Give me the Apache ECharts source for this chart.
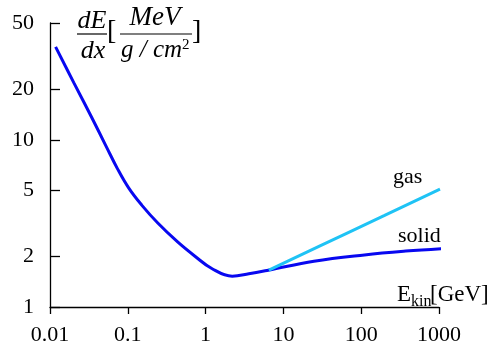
<!DOCTYPE html>
<html>
<head>
<meta charset="utf-8">
<script src="https://cdn.jsdelivr.net/npm/echarts@6/dist/echarts.min.js"></script>
<style>
  html, body { margin: 0; padding: 0; background: #fff; }
  #chart { width: 501px; height: 347px; }
</style>
</head>
<body>
<div id="chart"></div>
<script>
// kinetic energy [GeV] and energy loss [MeV/(g/cm2)]
let solidE = [0.0118, 0.0202, 0.0344, 0.0525, 0.0735, 0.103, 0.151, 0.243, 0.437, 0.723, 1.2, 2.2, 3.59, 6.39, 24.7, 110, 374, 1166]
let solidLoss = [36.0, 22.0, 13.6, 9.18, 6.73, 5.14, 4.07, 3.18, 2.45, 2.02, 1.70, 1.53, 1.58, 1.66, 1.88, 2.05, 2.16, 2.24]
let gasE = [6.5, 30, 66, 200, 1030]
let gasLoss = [1.66, 2.33, 2.77, 3.53, 5.07]
let yTicks = [1, 2, 5, 10, 20, 50]

const serif = '"Liberation Serif", "Times New Roman", serif'
let myChart = echarts.init(document.getElementById('chart'))

let option = {
    animation: false,
    grid: { left: 50, right: 62, top: 23, bottom: 40 },
    xAxis: {
        type: 'log',
        logBase: 10,
        min: 0.01,
        max: 1000,
        axisLine: { lineStyle: { color: '#000', width: 1.3 } },
        axisTick: { length: 7, lineStyle: { color: '#000', width: 1.3 } },
        axisLabel: { color: '#000', fontFamily: serif, fontSize: 22, margin: 17, formatter: v => String(v) },
        splitLine: { show: false }
    },
    yAxis: {
        type: 'log',
        logBase: 10,
        min: 1,
        max: 50,
        axisLine: { show: true, lineStyle: { color: '#000', width: 1.3 } },
        axisTick: { show: true, inside: true, length: 10, customValues: yTicks, lineStyle: { color: '#000', width: 1.3 } },
        axisLabel: { color: '#000', fontFamily: serif, fontSize: 22, margin: 16, customValues: yTicks, formatter: v => String(v) },
        splitLine: { show: false }
    },
    series: [
        {
            name: 'solid',
            type: 'line',
            smooth: 0.4,
            showSymbol: false,
            lineStyle: { color: '#0808f0', width: 3 },
            data: solidE.map((e, i) => [e, solidLoss[i]])
        },
        {
            name: 'gas',
            type: 'line',
            showSymbol: false,
            lineStyle: { color: '#1fc3f5', width: 3 },
            data: gasE.map((e, i) => [e, gasLoss[i]])
        }
    ],
    graphic: [
        { type: 'text', left: 393, top: 166, style: { text: 'gas', font: '22px ' + serif, fill: '#000' } },
        { type: 'text', left: 398, top: 225, style: { text: 'solid', font: '22px ' + serif, fill: '#000' } },
        { type: 'text', left: 397, top: 283, style: { text: 'E', font: '23px ' + serif, fill: '#000' } },
        { type: 'text', left: 411, top: 294, style: { text: 'kin', font: '16px ' + serif, fill: '#000' } },
        { type: 'text', left: 430, top: 283, style: { text: '[GeV]', font: '23px ' + serif, fill: '#000' } },
        // y axis title: dE/dx [MeV / (g/cm2)]
        { type: 'text', x: 92, y: 8, style: { text: 'dE', font: 'italic 26px ' + serif, fill: '#000', align: 'center' } },
        { type: 'line', shape: { x1: 77, y1: 34, x2: 107, y2: 34 }, style: { stroke: '#000', lineWidth: 1.2 } },
        { type: 'text', x: 93, y: 38, style: { text: 'dx', font: 'italic 26px ' + serif, fill: '#000', align: 'center' } },
        { type: 'text', x: 107, y: 18, style: { text: '[', font: '28px ' + serif, fill: '#000' } },
        { type: 'text', x: 155, y: 4, style: { text: 'MeV', font: 'italic 27px ' + serif, fill: '#000', align: 'center' } },
        { type: 'line', shape: { x1: 120, y1: 34, x2: 192, y2: 34 }, style: { stroke: '#000', lineWidth: 1.2 } },
        { type: 'text', x: 121, y: 38, style: { text: 'g / cm', font: 'italic 25px ' + serif, fill: '#000' } },
        { type: 'text', x: 182, y: 38, style: { text: '2', font: '15px ' + serif, fill: '#000' } },
        { type: 'text', x: 192, y: 18, style: { text: ']', font: '28px ' + serif, fill: '#000' } }
    ]
}
myChart.setOption(option)
</script>
</body>
</html>
